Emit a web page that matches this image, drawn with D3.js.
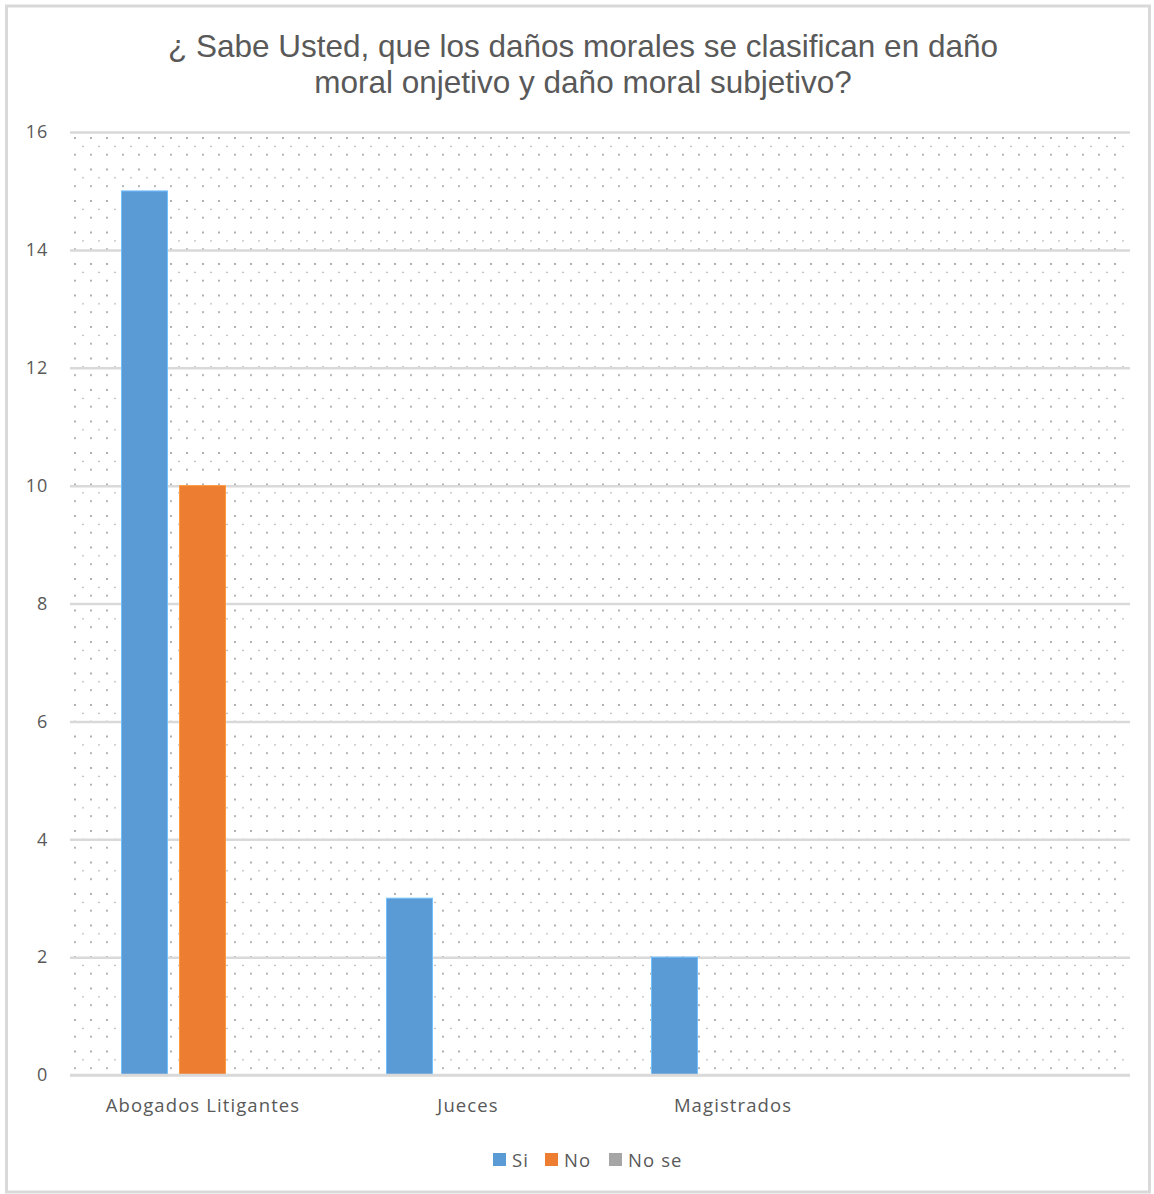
<!DOCTYPE html>
<html><head><meta charset="utf-8">
<script src="https://cdn.jsdelivr.net/npm/d3@7"></script>
<style>body{margin:0;background:#fff}</style>
</head><body>
<script>
const categories = ["Abogados Litigantes", "Jueces", "Magistrados", ""];
const seriesNames = ["Si", "No", "No se"];
const siValues = [15, 3, 2, null];
const noValues = [10, null, null, null];
const noSeValues = [null, null, null, null];
const yTicks = [0, 2, 4, 6, 8, 10, 12, 14, 16];
const colors = ["#5b9bd5", "#ed7d31", "#a5a5a5"];
const titleLines = ["¿ Sabe Usted, que los daños morales se clasifican en daño", "moral onjetivo y daño moral subjetivo?"];

const W = 1154, H = 1194;
const svg = d3.select("body").append("svg").attr("width", W).attr("height", H);
const defs = svg.append("defs");
const pat = defs.append("pattern").attr("id", "dots").attr("patternUnits", "userSpaceOnUse")
  .attr("width", 16).attr("height", 31.5).attr("x", 72).attr("y", 137);
pat.append("circle").attr("cx", 3).attr("cy", 1).attr("r", 0.9).attr("fill", "#8a8a8a");
pat.append("circle").attr("cx", 11).attr("cy", 9.3).attr("r", 0.7).attr("fill", "#8a8a8a");
pat.append("circle").attr("cx", 3).attr("cy", 17.6).attr("r", 0.9).attr("fill", "#8a8a8a");

// outer border
svg.append("rect").attr("x", 6.5).attr("y", 6).attr("width", 1143).attr("height", 1186)
  .attr("fill", "#fff").attr("stroke", "#d9d9d9").attr("stroke-width", 3);

const m = {l: 70, r: 1130, t: 132, b: 1075};
const x = d3.scaleBand().domain(categories.map((d, i) => i)).range([m.l, m.r]);
const y = d3.scaleLinear().domain([0, 16]).range([m.b, m.t]);
const x1 = d3.scaleBand().domain(seriesNames).range([51.5, 51.5 + 162]).paddingInner(12 / 58);

svg.append("rect").attr("x", m.l).attr("y", m.t).attr("width", m.r - m.l).attr("height", m.b - m.t)
  .attr("fill", "url(#dots)");

const yAxis = d3.axisLeft(y).tickValues(yTicks).tickSize(-(m.r - m.l)).tickPadding(22);
const gy = svg.append("g").attr("transform", `translate(${m.l},0)`).call(yAxis);
gy.select(".domain").remove();
gy.selectAll(".tick line").attr("stroke", "#d9d9d9").attr("stroke-width", 2.5);
gy.selectAll(".tick text").attr("fill", "#595959").attr("font-family", "Open Sans, sans-serif")
  .attr("font-size", 18).attr("letter-spacing", 0.8);

const data = [siValues, noValues, noSeValues];
data.forEach((vals, si) => {
  svg.append("g").selectAll("rect").data(vals.map((v, i) => ({v, i})).filter(d => d.v != null))
    .join("rect")
    .attr("x", d => x(d.i) + x1(seriesNames[si]))
    .attr("y", d => y(d.v))
    .attr("width", x1.bandwidth())
    .attr("height", d => y(0) - y(d.v))
    .attr("fill", colors[si])
    .attr("stroke", d3.color(colors[si]).brighter(0.6)).attr("stroke-width", 1);
});

const xAxis = d3.axisBottom(x).tickFormat(i => categories[i]).tickSize(0).tickPadding(24);
const gx = svg.append("g").attr("transform", `translate(0,${m.b})`).call(xAxis);
gx.select(".domain").remove();
gx.selectAll(".tick").attr("transform", function(i){ return `translate(${x(i) + 133},0)`; });
gx.selectAll(".tick text").attr("fill", "#595959").attr("font-family", "Open Sans, sans-serif")
  .attr("font-size", 18.5).attr("letter-spacing", 1.1);
svg.append("line").attr("x1", m.l).attr("x2", m.r).attr("y1", m.b).attr("y2", m.b)
  .attr("stroke", "#d9d9d9").attr("stroke-width", 2.5);

svg.append("g").selectAll("text").data(titleLines).join("text")
  .attr("x", 583).attr("y", (d, i) => 57 + i * 36).attr("text-anchor", "middle")
  .attr("fill", "#595959").attr("font-family", "Liberation Sans, Arial, sans-serif").attr("font-size", 31.5)
  .text(d => d);

const legendX = [493, 545, 609];
const lg = svg.append("g").selectAll("g").data(seriesNames).join("g")
  .attr("transform", (d, i) => `translate(${legendX[i]},1153)`);
lg.append("rect").attr("width", 13).attr("height", 13).attr("fill", (d, i) => colors[i]);
lg.append("text").attr("x", 19).attr("y", 13.5).attr("fill", "#595959")
  .attr("font-family", "Open Sans, sans-serif").attr("font-size", 18.5).attr("letter-spacing", 1.1).text(d => d);
</script>
</body></html>
